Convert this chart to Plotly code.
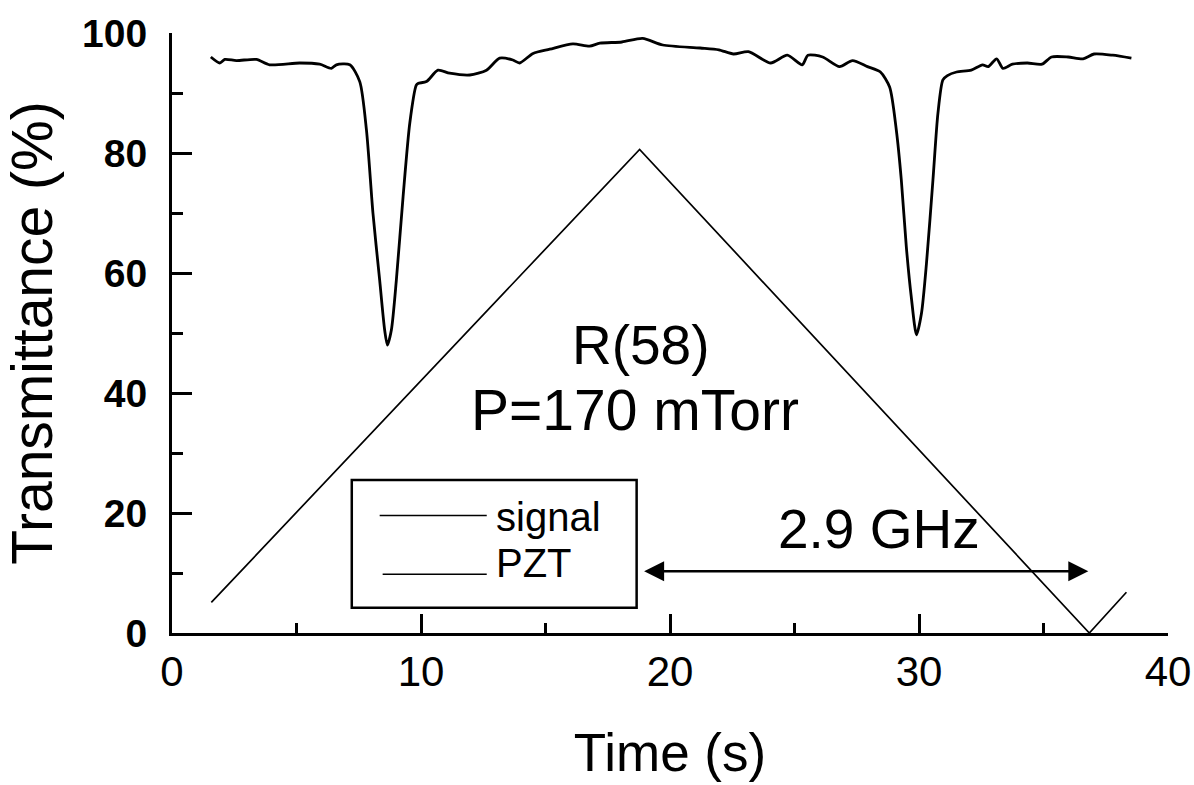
import plotly.graph_objects as go

# ---- data ----
t_signal = [1.56, 1.92, 2.12, 2.59, 3.39, 3.92, 5.13, 5.93, 6.40, 6.60, 7.14, 7.54, 7.81,
            8.07, 8.34, 8.54, 8.65, 8.81, 9.01, 9.28, 9.55, 9.81, 9.88, 10.22, 10.68, 11.15,
            11.96, 12.63, 13.16, 13.69, 13.96, 14.50, 15.17, 16.10, 16.77, 17.18, 18.07,
            18.90, 19.71, 21.21, 21.96, 22.55, 23.15, 24.04, 24.71, 25.31, 25.54, 26.13,
            26.81, 27.33, 27.93, 28.45, 28.82, 29.09, 29.29, 29.49, 29.69, 29.90, 30.10,
            30.30, 30.56, 30.76, 30.96, 31.14, 31.51, 32.10, 32.55, 32.78, 33.12, 33.37,
            33.75, 34.35, 34.94, 35.32, 35.99, 36.59, 37.03, 37.78, 38.53]
v_signal = [96.0, 95.0, 95.6, 95.4, 95.6, 94.7, 95.0, 94.8, 94.1, 94.7, 94.7, 91.9, 83.8,
            70.0, 58.8, 50.5, 48.0, 50.5, 58.8, 72.7, 85.0, 91.3, 91.6, 91.9, 93.8, 93.3,
            93.0, 93.8, 95.8, 95.5, 95.0, 96.6, 97.3, 98.2, 97.8, 98.3, 98.5,
            99.1, 98.0, 97.5, 97.2, 96.5, 96.9, 95.0, 96.3, 94.7, 96.3, 96.0,
            94.4, 95.4, 94.4, 93.5, 91.0, 83.8, 75.5, 64.4, 56.0, 49.7, 53.3,
            61.6, 75.5, 86.6, 92.2, 92.9, 93.5, 93.8, 94.7, 94.4, 95.7, 94.1,
            94.8, 95.0, 94.8, 96.0, 96.0, 95.7, 96.5, 96.3, 95.8]

t_pzt = [1.58, 18.78, 36.84, 38.33]
v_pzt = [5.1, 80.6, 0.0, 6.8]

x_ticks = [0, 10, 20, 30, 40]
y_ticks = [0, 20, 40, 60, 80, 100]

series_names = ["signal", "PZT"]
label_line = "R(58)"
label_pressure = "P=170 mTorr"
label_span = "2.9 GHz"
span_start, span_end, span_level = 18.9, 36.8, 10.3

NARROW = "Liberation Sans Narrow, Liberation Sans, Arial, sans-serif"
SANS = "Liberation Sans, Arial, sans-serif"

fig = go.Figure()
fig.add_trace(go.Scatter(x=t_signal, y=v_signal, mode="lines", name=series_names[0],
                         line=dict(color="black", width=2.8, shape="spline", smoothing=0.7),
                         showlegend=False))
fig.add_trace(go.Scatter(x=t_pzt, y=v_pzt, mode="lines", name=series_names[1],
                         line=dict(color="black", width=1.7), showlegend=False))

# legend box drawn by hand (long line samples as in the original)
fig.add_shape(type="rect", xref="x", yref="y", x0=7.22, x1=18.66, y0=4.2, y1=25.5,
              line=dict(color="black", width=2.5), fillcolor="rgba(0,0,0,0)")
fig.add_shape(type="line", xref="x", yref="y", x0=8.34, x1=12.64, y0=19.6, y1=19.6,
              line=dict(color="black", width=1.5))
fig.add_shape(type="line", xref="x", yref="y", x0=8.46, x1=12.64, y0=9.8, y1=9.8,
              line=dict(color="black", width=1.5))
fig.add_annotation(x=12.95, y=19.3, xref="x", yref="y", text=series_names[0], showarrow=False,
                   xanchor="left", yanchor="middle", font=dict(family=SANS, size=40, color="black"))
fig.add_annotation(x=12.95, y=11.6, xref="x", yref="y", text=series_names[1], showarrow=False,
                   xanchor="left", yanchor="middle", font=dict(family=SANS, size=40, color="black"))

# text labels
fig.add_annotation(x=18.82, y=48.0, xref="x", yref="y", text=label_line, showarrow=False,
                   font=dict(family=SANS, size=55, color="black"))
fig.add_annotation(x=18.6, y=37.2, xref="x", yref="y", text=label_pressure, showarrow=False,
                   font=dict(family=SANS, size=57, color="black"))
fig.add_annotation(x=28.4, y=17.4, xref="x", yref="y", text=label_span, showarrow=False,
                   font=dict(family=SANS, size=55, color="black"))

# double-headed arrow
fig.add_annotation(x=span_end, y=span_level, ax=span_start, ay=span_level,
                   xref="x", yref="y", axref="x", ayref="y", text="", showarrow=True,
                   arrowhead=2, arrowside="end+start", arrowsize=1.6, arrowwidth=2.5,
                   arrowcolor="black", standoff=0, startstandoff=0)

axis_common = dict(showline=True, linecolor="black", linewidth=3, ticks="inside",
                   tickcolor="black", tickwidth=3, showgrid=False, zeroline=False,
                   mirror=False, automargin=False)

fig.update_xaxes(range=[0, 40], tickvals=x_ticks, ticklen=19,
                 minor=dict(ticks="inside", ticklen=10, tickwidth=3, tickcolor="black", dtick=5),
                 tickfont=dict(family=NARROW, size=42, color="black"),
                 title=dict(text="Time (s)", font=dict(family=NARROW, size=53, color="black"),
                            standoff=40),
                 **axis_common)
fig.update_yaxes(range=[0, 100], tickvals=y_ticks, ticklen=20,
                 minor=dict(ticks="inside", ticklen=11, tickwidth=3, tickcolor="black", dtick=10),
                 tickfont=dict(family=SANS, size=39, color="black", weight="bold"),
                 ticklabelstandoff=14,
                 title=dict(text="Transmittance (%)", font=dict(family=SANS, size=57, color="black"),
                            standoff=12),
                 **axis_common)

fig.update_layout(width=1194, height=785, margin=dict(l=172, r=26, t=33, b=152),
                  plot_bgcolor="white", paper_bgcolor="white", showlegend=False)

fig.write_html("out.html")
